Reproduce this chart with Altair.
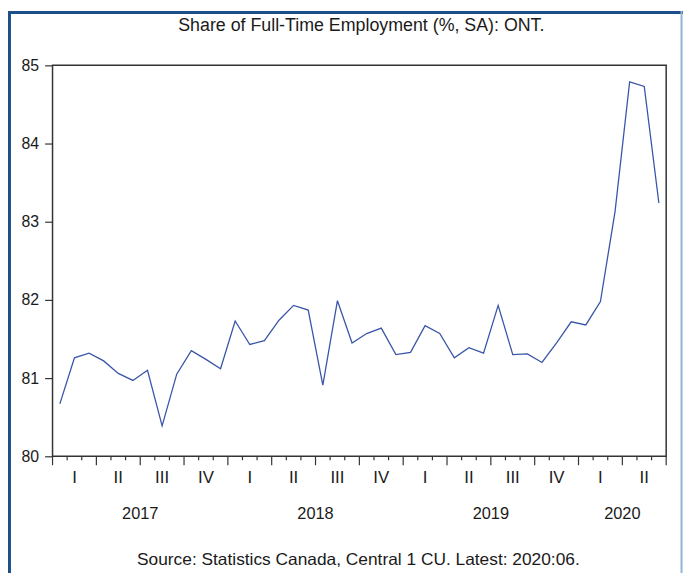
import altair as alt
import pandas as pd

values = [80.67, 81.26, 81.32, 81.22, 81.06, 80.97, 81.10, 80.39, 81.05, 81.35, 81.24, 81.12,
          81.73, 81.43, 81.48, 81.74, 81.93, 81.87, 80.91, 81.99, 81.45, 81.57, 81.64, 81.30,
          81.33, 81.67, 81.57, 81.26, 81.39, 81.32, 81.93, 81.30, 81.31, 81.20, 81.45, 81.72,
          81.68, 81.98, 83.13, 84.79, 84.73, 83.24]
quarter_labels = ["I", "II", "III", "IV"] * 3 + ["I", "II"]
years = ["2017", "2018", "2019", "2020"]
year_pos = [6, 18, 30, 39]
y_ticks = [80, 81, 82, 83, 84, 85]

W, H = 620, 395
FONT = "Liberation Sans"
TXT = "#1a1a1a"

df = pd.DataFrame({"t": [i + 0.5 for i in range(len(values))], "v": values})
minor = pd.DataFrame({"t": [i for i in range(43) if i % 3 != 0]})
major = pd.DataFrame({"t": [i for i in range(43) if i % 3 == 0]})
qdf = pd.DataFrame({"t": [i * 3 + 1.5 for i in range(len(quarter_labels))], "lab": quarter_labels})
ydf = pd.DataFrame({"t": year_pos, "lab": years})

xs = alt.Scale(domain=[0, 42], nice=False, zero=False)
ys = alt.Scale(domain=[80, 85], nice=False, zero=False)

line = alt.Chart(df).mark_line(color="#3a55a8", strokeWidth=1.3).encode(
    x=alt.X("t:Q", scale=xs, axis=None),
    y=alt.Y("v:Q", scale=ys, axis=alt.Axis(values=y_ticks, title=None, grid=False, domain=False,
                                           tickSize=8, tickColor="#333", tickWidth=1.2,
                                           labelFontSize=16, labelFont=FONT, labelColor=TXT,
                                           labelPadding=6)),
)

minor_t = alt.Chart(minor).mark_rule(color="#333", strokeWidth=1.2, clip=False).encode(
    x=alt.X("t:Q", scale=xs), y=alt.value(H), y2=alt.value(H + 4))
major_t = alt.Chart(major).mark_rule(color="#333", strokeWidth=1.2, clip=False).encode(
    x=alt.X("t:Q", scale=xs), y=alt.value(H), y2=alt.value(H + 9))

qtext = alt.Chart(qdf).mark_text(font=FONT, fontSize=17, color=TXT, baseline="middle").encode(
    x=alt.X("t:Q", scale=xs), y=alt.value(H + 22), text="lab:N")
ytext = alt.Chart(ydf).mark_text(font=FONT, fontSize=16.5, color=TXT, baseline="middle").encode(
    x=alt.X("t:Q", scale=xs), y=alt.value(H + 58), text="lab:N")

title = alt.Chart(pd.DataFrame({"s": ["Share of Full-Time Employment (%, SA): ONT."]})).mark_text(
    font=FONT, fontSize=18, color=TXT, baseline="middle").encode(
    x=alt.value(W / 2 + 2), y=alt.value(-40), text="s:N")
source = alt.Chart(pd.DataFrame({"s": ["Source: Statistics Canada, Central 1 CU. Latest: 2020:06."]})).mark_text(
    font=FONT, fontSize=17.5, color=TXT, baseline="middle").encode(
    x=alt.value(W / 2 - 1), y=alt.value(H + 105), text="s:N")

border_l = alt.Chart(pd.DataFrame({"a": [0]})).mark_rule(color="#1d4f8a", strokeWidth=3, clip=False).encode(
    x=alt.value(-43.5), y=alt.value(-55), y2=alt.value(H + 118))
border_t = alt.Chart(pd.DataFrame({"a": [0]})).mark_rule(color="#1d4f8a", strokeWidth=3, clip=False).encode(
    x=alt.value(-45), x2=alt.value(W + 17), y=alt.value(-53.5))
border_r = alt.Chart(pd.DataFrame({"a": [0]})).mark_rule(color="#8fb3d9", strokeWidth=2, clip=False).encode(
    x=alt.value(W + 15.5), y=alt.value(-55), y2=alt.value(H + 118))

chart = alt.layer(line, minor_t, major_t, qtext, ytext, title, source, border_l, border_t, border_r).properties(
    width=W, height=H,
    autosize=alt.AutoSizeParams(type="none"),
    padding={"left": 45, "top": 55, "right": 17, "bottom": 118},
    background="white",
).configure_view(stroke="#333", strokeWidth=1.5)

chart.save("out.html", embed_options={"renderer": "svg", "actions": False})
